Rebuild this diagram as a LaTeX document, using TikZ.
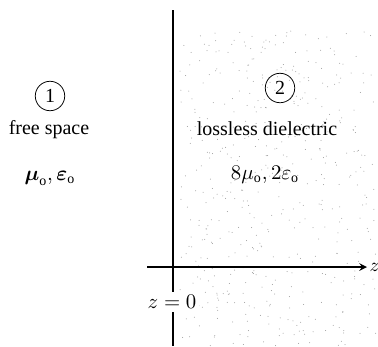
\documentclass[tikz,border=0pt]{standalone}
\usepackage{amsmath}
\usepackage{fontspec}
\setmainfont{Liberation Serif}
\usetikzlibrary{arrows}

\begin{document}
\begin{tikzpicture}[
    x=0.0185cm, y=-0.0185cm,
    >=stealth,
    region/.style={draw, circle, minimum size=15.5pt, inner sep=0pt, font=\fontsize{10.5}{12}\selectfont},
    lbl/.style={font=\fontsize{10.5}{12}\selectfont},
    stipple/.style={fill=black!40}
]
\useasboundingbox (0,0) rectangle (378,346);

% Stippled dielectric
\pgfmathsetseed{7}
\foreach \i in {1,...,500} {
  \pgfmathsetmacro{\px}{180+196*rnd}
  \pgfmathsetmacro{\py}{30+316*rnd}
  \fill[stipple] (\px,\py) circle (0.5);
}

% Regions
\node[region] (r1) at (50,96) {1};
\node[lbl] (free) at (49,130) {free space};
\node[lbl] (mat1) at (50,178) {$\boldsymbol{\mu}_{\mathrm{o}}, \boldsymbol{\varepsilon}_{\mathrm{o}}$};

\node[region] (r2) at (280,88) {2};
\node[lbl] (diel) at (267,129) {lossless dielectric};
\node[lbl] (mat2) at (265,175) {$8\mu_{\mathrm{o}}, 2\varepsilon_{\mathrm{o}}$};

% Boundary and axis
\coordinate (btop) at (173,10);
\coordinate (bbot) at (173,346);
\coordinate (axstart) at (147,267);
\coordinate (axend) at (367,267);
\draw[thick] (btop) -- (bbot);
\draw[thick,->] (axstart) -- (axend) node[right, inner sep=1pt] (zlbl) {$z$};
\node[lbl, fill=white, inner sep=1.5pt] (zero) at (172,302) {$z = 0$};

\end{tikzpicture}
\end{document}
